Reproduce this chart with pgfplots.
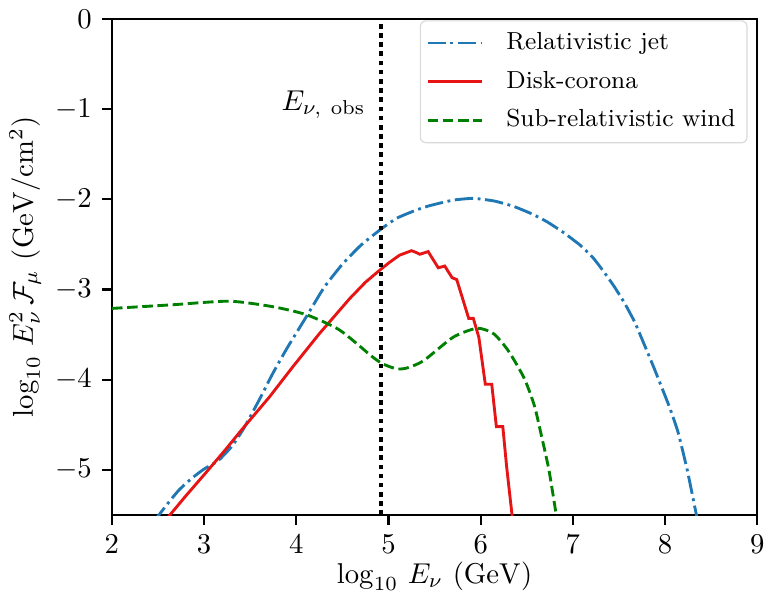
\documentclass[border=0pt]{standalone}
\usepackage{pgfplots}
\pgfplotsset{compat=1.18}
\definecolor{mplblue}{RGB}{31,119,180}
\definecolor{mplred}{RGB}{230,20,20}
\definecolor{mplgreen}{RGB}{0,128,0}
\begin{document}
\begin{tikzpicture}
\begin{axis}[
    scale only axis,
    width=225pt, height=173pt,
    xmin=2, xmax=9, ymin=-5.5, ymax=0,
    xtick={2,3,4,5,6,7,8,9},
    ytick={-5,-4,-3,-2,-1,0},
    xtick pos=left, ytick pos=left,
    tick align=outside,
    major tick length=3.5pt,
    axis line style={line width=0.8pt},
    every tick/.style={black, line width=0.8pt},
    xlabel={$\log_{10}\, E_\nu\ (\mathrm{GeV})$},
    ylabel={$\log_{10}\, E_\nu^2\, \mathcal{F}_\mu\ (\mathrm{GeV/cm^2})$},
    xlabel style={yshift=4pt},
    ylabel style={yshift=-2pt},
    legend style={at={(0.985,0.997)}, anchor=north east, draw=black!15,
        rounded corners=2pt, inner sep=2pt, row sep=2pt,
        font=\fontsize{8.6}{10}\selectfont, cells={anchor=west}},
    legend image code/.code={\draw[#1] (0pt,0pt) -- (19pt,0pt); \path (25pt,0pt);},
    every axis plot/.append style={line width=1pt},
]
% relativistic jet
\addplot[mplblue, smooth, tension=0.3,
    dash pattern=on 6.4pt off 1.6pt on 1pt off 1.6pt] coordinates {
    (2.45,-5.58) (2.60,-5.38) (2.73,-5.22) (2.87,-5.09) (3.00,-4.99)
    (3.15,-4.90) (3.30,-4.74) (3.43,-4.54) (3.60,-4.22) (3.74,-3.94)
    (3.90,-3.65) (4.11,-3.30) (4.30,-2.98) (4.50,-2.72) (4.70,-2.51)
    (4.92,-2.33) (5.09,-2.21) (5.30,-2.12) (5.45,-2.07) (5.70,-2.01)
    (5.92,-1.99) (6.15,-2.02) (6.36,-2.08) (6.55,-2.16) (6.72,-2.25)
    (6.90,-2.37) (7.08,-2.51) (7.22,-2.65) (7.34,-2.81) (7.45,-2.97)
    (7.56,-3.15) (7.67,-3.36) (7.77,-3.60) (7.86,-3.82) (7.95,-4.05)
    (8.05,-4.31) (8.14,-4.58) (8.24,-5.00) (8.34,-5.50) (8.36,-5.60)
};
\addlegendentry{Relativistic jet}
% disk-corona
\addplot[mplred] coordinates {
    (2.58,-5.56) (2.80,-5.29) (3.02,-5.03) (3.22,-4.79) (3.42,-4.54)
    (3.71,-4.19) (3.96,-3.86) (4.25,-3.49) (4.58,-3.10) (4.75,-2.92)
    (4.90,-2.79) (5.01,-2.70) (5.12,-2.62) (5.25,-2.57)
    (5.30,-2.59) (5.34,-2.61) (5.43,-2.58) (5.54,-2.76) (5.61,-2.74)
    (5.69,-2.87) (5.74,-2.89) (5.87,-3.32) (5.92,-3.32) (5.98,-3.53)
    (6.05,-4.05) (6.12,-4.05) (6.17,-4.52) (6.24,-4.52) (6.28,-4.95)
    (6.34,-5.50) (6.35,-5.60)
};
\addlegendentry{Disk-corona}
% sub-relativistic wind
\addplot[mplgreen, smooth, tension=0.4,
    dash pattern=on 3.7pt off 1.6pt] coordinates {
    (2.00,-3.21) (2.65,-3.17) (3.27,-3.13) (3.74,-3.19) (4.11,-3.28)
    (4.47,-3.45) (4.83,-3.75) (4.95,-3.83) (5.09,-3.88) (5.20,-3.87)
    (5.38,-3.79) (5.70,-3.53) (5.96,-3.43) (6.14,-3.49) (6.30,-3.68)
    (6.47,-3.98) (6.58,-4.28) (6.65,-4.58) (6.74,-5.00) (6.82,-5.50)
    (6.84,-5.60)
};
\addlegendentry{Sub-relativistic wind}
% observed energy
\addplot[black, line width=1.6pt, dash pattern=on 1.6pt off 1.6pt, forget plot]
    coordinates {(4.92,-5.5) (4.92,0)};
\node[anchor=east] at (axis cs:4.86,-0.95) {$E_{\nu,\ \mathrm{obs}}$};
\end{axis}
\end{tikzpicture}
\end{document}
